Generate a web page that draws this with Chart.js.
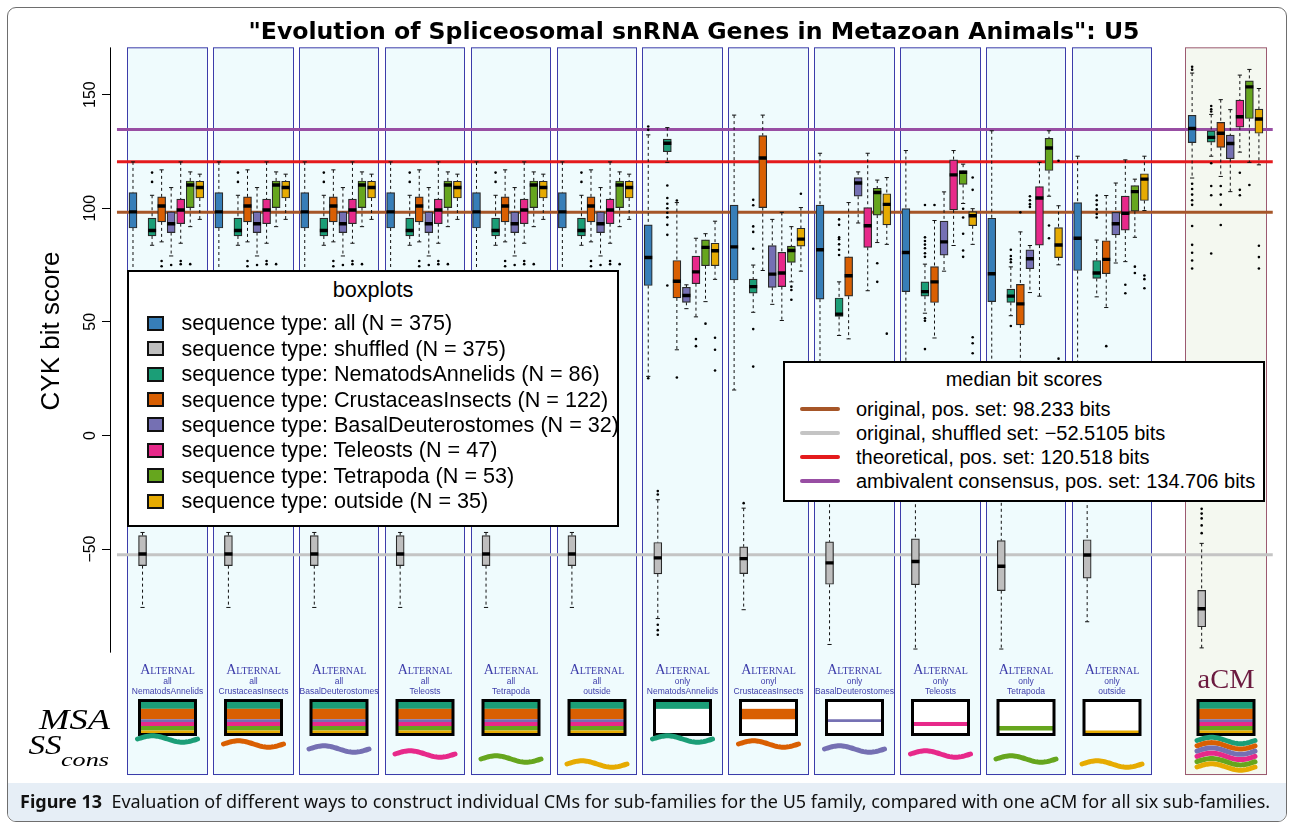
<!DOCTYPE html>
<html>
<head>
<meta charset="utf-8">
<title>U5 CYK bit scores</title>
<script src="https://cdn.jsdelivr.net/npm/chart.js@4.4.0/dist/chart.umd.min.js"></script>
<style>
  body { margin: 0; background: #fff; }
  #wrap { position: relative; width: 1294px; height: 828px; overflow: hidden; font-family: 'Liberation Sans', Arial, sans-serif; }
  #frame { position: absolute; left: 7px; top: 7px; width: 1280px; height: 815px; border: 1px solid #6e6e6e; border-radius: 9px; box-sizing: border-box; overflow: hidden; }
  #capbg { position: absolute; left: 0; right: 0; bottom: 0; height: 38px; background: #e6eef6; }
  #chart { position: absolute; left: 0; top: 0; }
  .legend { position: absolute; background: #fff; border: 2px solid #000; box-sizing: border-box; color: #000; }
  .legend .ttl, .legend .row { position: absolute; height: 24px; line-height: 24px; white-space: nowrap; }
  .legend .sw { position: absolute; box-sizing: border-box; border: 2px solid #111; }
  .legend .ln { position: absolute; height: 4px; border-radius: 2px; }
  #leg1 { left: 127px; top: 270px; width: 492px; height: 257px; font-size: 21.6px; }
  #leg2 { left: 783px; top: 361px; width: 482px; height: 141px; font-size: 20px; }
  #caption { position: absolute; left: 20px; top: 790px; height: 22px; line-height: 22px; font-family: 'Noto Sans', sans-serif; font-size: 18px; white-space: nowrap; color: #111; }
</style>
</head>
<body>
<div id="wrap">
  <div id="frame"><div id="capbg"></div></div>
  <canvas id="chart" width="1294" height="828"></canvas>
  <div id="leg1" class="legend"></div>
  <div id="leg2" class="legend"></div>
  <div id="caption"><b>Figure 13</b>&nbsp; Evaluation of different ways to construct individual CMs for sub-families for the U5 family, compared with one aCM for all six sub-families.</div>
</div>
<script>
// sequence types (one boxplot per type in every panel)
const groupNames = ['all', 'shuffled', 'NematodsAnnelids', 'CrustaceasInsects', 'BasalDeuterostomes', 'Teleosts', 'Tetrapoda', 'outside'];
const groupN = [375, 375, 86, 122, 32, 47, 53, 35];
const groupColors = ['#377eb8', '#bebebe', '#1b9e77', '#d95f02', '#7570b3', '#e7298a', '#66a61e', '#e6ab02'];

// panels: 6 "all" alternals, 6 "only" alternals, then the aCM
const panelModes = ['all', 'all', 'all', 'all', 'all', 'all', 'only', 'onyl', 'only', 'only', 'only', 'only', 'aCM'];
const panelSubs = ['NematodsAnnelids', 'CrustaceasInsects', 'BasalDeuterostomes', 'Teleosts', 'Tetrapoda', 'outside',
                   'NematodsAnnelids', 'CrustaceasInsects', 'BasalDeuterostomes', 'Teleosts', 'Tetrapoda', 'outside', ''];

// box stats per panel: [lower whisker, q1, median, q3, upper whisker]
const allStats = [
  [63, 91.3, 98.4, 106.9, 120.4], [63, 91.3, 98.4, 106.9, 120.4], [63, 91.3, 98.4, 106.9, 120.4],
  [63, 91.3, 98.4, 106.9, 120.4], [63, 91.3, 98.4, 106.9, 120.4], [63, 91.3, 98.4, 106.9, 120.4],
  [26.0, 66.0, 78.3, 92.7, 132.3], [20.0, 68.4, 83.0, 101.4, 141.0], [18.0, 60.0, 81.7, 101.4, 124.2],
  [15.0, 63.3, 80.5, 99.8, 125.4], [16.0, 58.9, 71.2, 95.6, 134.1], [14.0, 72.6, 86.8, 102.5, 122.9],
  [113.3, 128.9, 135.1, 140.9, 159.5]
];
const shufStats = [
  [-75.7, -57.3, -52.2, -44.1, -42.7], [-75.7, -57.3, -52.2, -44.1, -42.7], [-75.7, -57.3, -52.2, -44.1, -42.7],
  [-75.7, -57.3, -52.2, -44.1, -42.7], [-75.7, -57.3, -52.2, -44.1, -42.7], [-75.7, -57.3, -52.2, -44.1, -42.7],
  [-80.6, -60.9, -53.9, -47.1, -28.3], [-76.7, -60.8, -54.2, -49.0, -32.0], [-92.0, -65.5, -56.1, -46.8, -25.0],
  [-94.0, -65.7, -55.5, -45.5, -25.0], [-94.0, -68.3, -57.6, -46.3, -27.0], [-82.0, -62.8, -52.6, -45.9, -28.0],
  [-93.5, -84.2, -76.3, -68.2, -47.5]
];
const nemStats = [
  [83.7, 87.8, 90.2, 95.7, 105.7], [83.7, 87.8, 90.2, 95.7, 105.7], [83.7, 87.8, 90.2, 95.7, 105.7],
  [83.7, 87.8, 90.2, 95.7, 105.7], [83.7, 87.8, 90.2, 95.7, 105.7], [83.7, 87.8, 90.2, 95.7, 105.7],
  [120.2, 124.9, 128.6, 130.4, 135.5], [54.2, 62.6, 65.5, 68.8, 75.0], [44.0, 52.4, 53.4, 60.5, 67.6],
  [53.8, 61.3, 63.3, 67.6, 75.4], [52.7, 58.6, 61.3, 64.4, 74.2], [61.0, 69.1, 71.5, 77.0, 86.0],
  [122.9, 129.1, 131.2, 134.1, 141.3]
];
const cruStats = [
  [85.2, 94.0, 101.0, 105.0, 116.9], [85.2, 94.0, 101.0, 105.0, 116.9], [85.2, 94.0, 101.0, 105.0, 116.9],
  [85.2, 94.0, 101.0, 105.0, 116.9], [85.2, 94.0, 101.0, 105.0, 116.9], [85.2, 94.0, 101.0, 105.0, 116.9],
  [37.7, 60.5, 67.9, 77.0, 102.5], [72.6, 100.3, 122.1, 132.0, 141.0], [42.5, 61.3, 70.3, 78.6, 102.5],
  [42.9, 58.5, 67.6, 74.3, 94.6], [28.0, 48.7, 57.9, 66.5, 89.6], [56.3, 71.2, 77.5, 85.7, 105.6],
  [114.0, 126.8, 133.0, 137.8, 147.8]
];
const basStats = [
  [79.0, 89.3, 93.2, 98.4, 109.1], [79.0, 89.3, 93.2, 98.4, 109.1], [79.0, 89.3, 93.2, 98.4, 109.1],
  [79.0, 89.3, 93.2, 98.4, 109.1], [79.0, 89.3, 93.2, 98.4, 109.1], [79.0, 89.3, 93.2, 98.4, 109.1],
  [55.8, 58.6, 61.6, 65.2, 66.3], [57.7, 65.2, 71.0, 83.6, 95.1], [93.5, 105.3, 111.1, 113.5, 116.0],
  [72.3, 79.4, 85.2, 94.3, 107.2], [62.9, 73.4, 77.8, 81.7, 83.6], [75.9, 88.3, 93.2, 98.2, 111.1],
  [107.3, 121.8, 128.5, 132.2, 143.4]
];
const telStats = [
  [84.6, 93.2, 99.2, 104.0, 120.4], [84.6, 93.2, 99.2, 104.0, 120.4], [84.6, 93.2, 99.2, 104.0, 120.4],
  [84.6, 93.2, 99.2, 104.0, 120.4], [84.6, 93.2, 99.2, 104.0, 120.4], [84.6, 93.2, 99.2, 104.0, 120.4],
  [52.2, 66.8, 72.0, 78.9, 86.8], [50.6, 65.5, 71.5, 80.6, 98.2], [63.7, 82.8, 92.3, 100.3, 124.2],
  [83.6, 99.3, 114.7, 121.3, 125.4], [61.3, 83.8, 104.5, 109.5, 120.2], [76.5, 90.4, 97.8, 105.3, 121.3],
  [124.7, 135.7, 140.3, 147.6, 158.6]
];
const tetStats = [
  [91.9, 100.3, 110.2, 112.0, 116.0], [91.9, 100.3, 110.2, 112.0, 116.0], [91.9, 100.3, 110.2, 112.0, 116.0],
  [91.9, 100.3, 110.2, 112.0, 116.0], [91.9, 100.3, 110.2, 112.0, 116.0], [91.9, 100.3, 110.2, 112.0, 116.0],
  [58.9, 74.7, 82.8, 86.1, 88.8], [67.6, 76.2, 81.4, 83.3, 91.9], [84.9, 97.0, 106.9, 108.8, 112.4],
  [102.1, 110.5, 115.8, 116.6, 119.4], [105.3, 116.6, 126.5, 130.8, 134.1], [87.2, 98.7, 107.3, 110.0, 112.8],
  [120.2, 139.5, 153.4, 156.1, 161.1]
];
const outStats = [
  [95.1, 104.5, 109.1, 111.9, 115.0], [95.1, 104.5, 109.1, 111.9, 115.0], [95.1, 104.5, 109.1, 111.9, 115.0],
  [95.1, 104.5, 109.1, 111.9, 115.0], [95.1, 104.5, 109.1, 111.9, 115.0], [95.1, 104.5, 109.1, 111.9, 115.0],
  [68.7, 74.7, 81.3, 84.6, 94.3], [72.3, 83.3, 86.4, 91.2, 100.3], [84.1, 92.7, 101.7, 106.4, 113.5],
  [84.1, 92.3, 96.7, 98.5, 99.8], [75.1, 78.3, 83.8, 91.5, 101.1], [99.0, 103.4, 112.8, 115.2, 122.9],
  [119.1, 133.0, 139.3, 143.6, 152.7]
];

// outliers per panel
const allOutliers = [[], [], [], [], [], [], [134.5, 136, 25.2], [], [], [], [], [],
  [161, 162.3, 110.8, 108.5, 106, 103.5, 101.5, 92.2, 83.9, 80.4, 77, 73.5]];
const shufOutliers = [[], [], [], [], [], [], [-24.5, -26, -83.3, -85.7, -87.7], [-29.8], [], [], [], [],
  [-32.3, -34.4, -36.5, -39.6, -43]];
const nemOutliers = [[111.6, 115.7], [111.6, 115.7], [111.6, 115.7], [111.6, 115.7], [111.6, 115.7], [111.6, 115.7],
  [110, 104.5, 102, 100, 98, 96, 92.7, 88.3, 66], [103.7, 101.3, 92, 89.6, 82.2, 46.8, 30.3],
  [95.1, 92.7, 87.2, 86.4, 84.1, 81.7, 79.4], [101.4, 87.2, 85.6, 84, 82.4, 80.2, 78.6, 51.6, 50.5, 38],
  [81.7, 79, 77.5, 76.2, 48.2], [105.6, 103.5, 101.5, 99.5, 97.5, 95.9], [145, 143.6, 142.6, 119.8, 109.8, 105.7, 80.1]];
const cruOutliers = [[76.8, 74.5], [76.8, 74.5], [76.8, 74.5], [76.8, 74.5], [76.8, 74.5], [76.8, 74.5],
  [103.4, 25.5], [], [], [101.4], [98.2], [39.3], [109.8, 106, 101.5, 92.6]];
const basOutliers = [[75], [75], [75], [75], [75], [75], [], [], [], [], [105.3, 103.5, 101.8, 100.6], [], []];
const telOutliers = [[76.8, 75.4], [76.8, 75.4], [76.8, 75.4], [76.8, 75.4], [76.8, 75.4], [76.8, 75.4],
  [42.4, 39.3], [], [], [], [], [66.3, 62.6], [115.6, 108.1, 105.7]];
const tetOutliers = [[75.4], [75.4], [75.4], [75.4], [75.4], [75.4], [49.2], [65.5, 64, 59.7], [75.8, 67.6],
  [99.8, 95.9, 88.8, 81.4, 78.6], [92.4, 86.8], [74.3, 71.5], [110.2]];
const outOutliers = [[], [], [], [], [], [], [43, 37.7, 28.6], [106.4], [44.8], [113.5, 108.1, 43.2, 40.6, 36.2],
  [120.9, 33.8], [70.4, 68.8, 64.8], [83.5, 78.5, 73.5]];

// median bit score reference lines
const refValues = [98.233, -52.5105, 120.518, 134.706];
const refLabels = ['original, pos. set: 98.233 bits', 'original, shuffled set: \u221252.5105 bits',
                   'theoretical, pos. set: 120.518 bits', 'ambivalent consensus, pos. set: 134.706 bits'];
const refColors = ['#a65628', '#c4c4c4', '#e41a1c', '#984ea3'];

const yTicks = [150, 100, 50, 0, -50];
const yTickLabels = ['150', '100', '50', '0', '\u221250'];

const statsByGroup = [allStats, shufStats, nemStats, cruStats, basStats, telStats, tetStats, outStats];
const outliersByGroup = [allOutliers, shufOutliers, nemOutliers, cruOutliers, basOutliers, telOutliers, tetOutliers, outOutliers];

// x position of the first box of panel k (9 slots per panel, wider gap before aCM)
const panelStart = (k) => k < 12 ? 1 + 9 * k : 112;

const datasets = [];

refValues.forEach((v, i) => {
  datasets.push({
    type: 'line', data: [{ x: -0.68, y: v }, { x: 120.45, y: v }],
    borderColor: refColors[i], borderWidth: 3, pointRadius: 0, order: 50
  });
});

const whiskerPts = [];
const capPts = [];
statsByGroup.forEach((stats, g) => {
  stats.forEach(([lo, q1, med, q3, hi], k) => {
    const x = panelStart(k) + g;
    whiskerPts.push({ x, y: hi }, { x, y: q3 }, { x, y: null }, { x, y: q1 }, { x, y: lo }, { x, y: null });
    capPts.push({ x: x - 0.22, y: hi }, { x: x + 0.22, y: hi }, { x, y: null },
                { x: x - 0.22, y: lo }, { x: x + 0.22, y: lo }, { x, y: null });
  });
});
datasets.push({ type: 'line', data: whiskerPts, borderColor: '#111', borderWidth: 1, borderDash: [3, 3],
  pointRadius: 0, spanGaps: false, order: 40 });
datasets.push({ type: 'line', data: capPts, borderColor: '#111', borderWidth: 1,
  pointRadius: 0, spanGaps: false, order: 40 });

statsByGroup.forEach((stats, g) => {
  datasets.push({
    type: 'bar', label: groupNames[g],
    data: stats.map((s, k) => ({ x: panelStart(k) + g, y: [s[1], s[3]] })),
    backgroundColor: groupColors[g], borderColor: '#2a2a2a', borderWidth: 1.2, borderSkipped: false,
    barThickness: 8, grouped: false, order: 30
  });
});

const medianPts = [];
const outlierPts = [];
statsByGroup.forEach((stats, g) => {
  stats.forEach((s, k) => medianPts.push({ x: panelStart(k) + g, y: s[2] }));
  outliersByGroup[g].forEach((list, k) => list.forEach(v => outlierPts.push({ x: panelStart(k) + g, y: v })));
});
datasets.push({ type: 'scatter', data: medianPts, pointStyle: 'line', pointRadius: 4,
  pointBorderWidth: 3.4, pointBorderColor: '#000', order: 20 });
datasets.push({ type: 'scatter', data: outlierPts, pointStyle: 'circle', pointRadius: 1.3,
  pointBackgroundColor: '#000', pointBorderWidth: 0, order: 10 });

function panelEdges(x, k) {
  const s = panelStart(k);
  const l = x.getPixelForValue(s - (k < 12 ? 0.61 : 0.74));
  const r = x.getPixelForValue(s + (k < 12 ? 7.72 : 7.75));
  return [Math.round(l) + 0.5, Math.round(r) + 0.5];
}

function drawWave(ctx, x0, x1, yc, color) {
  ctx.beginPath();
  for (let i = 0; i <= 40; i++) {
    const t = i / 40;
    const px = x0 + (x1 - x0) * t;
    const py = yc - 3.2 * Math.sin(2 * Math.PI * t);
    if (i === 0) ctx.moveTo(px, py); else ctx.lineTo(px, py);
  }
  ctx.strokeStyle = color;
  ctx.lineWidth = 5;
  ctx.lineCap = 'round';
  ctx.stroke();
}

function fitText(ctx, text, cx, baseline, width) {
  const w = ctx.measureText(text).width;
  ctx.save();
  ctx.translate(cx, baseline);
  ctx.scale(width / w, 1);
  ctx.textAlign = 'center';
  ctx.fillText(text, 0, 0);
  ctx.restore();
}

const panelsPlugin = {
  id: 'panels',
  beforeDatasetsDraw(chart) {
    const { ctx, chartArea, scales: { x } } = chart;
    ctx.save();
    ctx.lineWidth = 1;
    for (let k = 0; k < 13; k++) {
      const [l, r] = panelEdges(x, k);
      ctx.fillStyle = k < 12 ? '#effbfd' : '#f4f8f0';
      ctx.strokeStyle = k < 12 ? '#3c3caa' : '#9c5a70';
      ctx.fillRect(l, chartArea.top + 0.5, r - l, chartArea.bottom - chartArea.top);
      ctx.strokeRect(l, chartArea.top + 0.5, r - l, chartArea.bottom - chartArea.top - 1);
    }
    ctx.restore();
  },
  afterDatasetsDraw(chart) {
    const { ctx, scales: { x } } = chart;
    const subN = groupN.slice(2);
    const subTotal = subN.reduce((a, b) => a + b, 0);
    ctx.save();
    for (let k = 0; k < 13; k++) {
      const [l, r] = panelEdges(x, k);
      const cx = (l + r) / 2;
      const sub = k % 6;
      if (k < 12) {
        ctx.fillStyle = '#3c3caa';
        ctx.textAlign = 'center';
        ctx.font = "small-caps 14px 'Liberation Serif', serif";
        ctx.fillText('Alternal', cx, 673.5);
        ctx.font = "8.5px 'Liberation Sans', sans-serif";
        ctx.fillText(panelModes[k], cx, 684);
        ctx.fillText(panelSubs[k], cx, 693.5);
      } else {
        ctx.fillStyle = '#6b1a3f';
        ctx.font = "27px 'Liberation Serif', serif";
        fitText(ctx, 'aCM', cx, 688, 57);
      }
      // MSA glyph
      const bx0 = cx - 28, bx1 = cx + 28, by0 = 701.5, by1 = 733.5;
      ctx.fillStyle = '#fff';
      ctx.fillRect(bx0, by0, bx1 - bx0, by1 - by0);
      let yy = by0;
      subN.forEach((n, g) => {
        const h = n / subTotal * (by1 - by0);
        if (k < 6 || k === 12 || g === sub) {
          ctx.fillStyle = groupColors[g + 2];
          ctx.fillRect(bx0, yy, bx1 - bx0, h);
        }
        yy += h;
      });
      ctx.strokeStyle = '#000';
      ctx.lineWidth = 3;
      ctx.strokeRect(bx0, by0 - 1, bx1 - bx0, by1 - by0 + 2);
      // SS_cons glyph
      if (k < 12) {
        drawWave(ctx, cx - 30, cx + 30, 739 + sub * 5, groupColors[sub + 2]);
      } else {
        for (let g = 0; g < 6; g++) drawWave(ctx, cx - 29, cx + 29, 740.5 + g * 5.3, groupColors[g + 2]);
      }
    }
    ctx.restore();
  },
  afterDraw(chart) {
    const { ctx, scales: { y } } = chart;
    ctx.save();
    // y axis line (spans the boxplot range only)
    ctx.strokeStyle = '#000';
    ctx.lineWidth = 1;
    ctx.beginPath();
    ctx.moveTo(y.right + 0.5, y.getPixelForValue(170.8));
    ctx.lineTo(y.right + 0.5, y.getPixelForValue(-95.6));
    ctx.stroke();
    // tick labels, parallel to axis
    ctx.fillStyle = '#000';
    ctx.font = "16px 'Liberation Sans', Arial, sans-serif";
    ctx.textAlign = 'center';
    ctx.textBaseline = 'middle';
    yTicks.forEach((v, i) => {
      ctx.save();
      ctx.translate(91, y.getPixelForValue(v));
      ctx.rotate(-Math.PI / 2);
      ctx.fillText(yTickLabels[i], 0, 0);
      ctx.restore();
    });
    // axis title
    ctx.save();
    ctx.font = "26px 'Liberation Sans', Arial, sans-serif";
    ctx.translate(52, 331);
    ctx.rotate(-Math.PI / 2);
    ctx.fillText('CYK bit score', 0, 0);
    ctx.restore();
    // row labels for the glyphs
    ctx.textBaseline = 'alphabetic';
    ctx.font = "italic 29px 'Liberation Serif', serif";
    fitText(ctx, 'MSA', 74.5, 729, 71);
    ctx.font = "italic 27px 'Liberation Serif', serif";
    fitText(ctx, 'SS', 45, 754, 33);
    ctx.font = "italic 19px 'Liberation Serif', serif";
    fitText(ctx, 'cons', 85, 766, 48);
    ctx.restore();
  }
};

new Chart(document.getElementById('chart'), {
  type: 'bar',
  data: { datasets },
  options: {
    responsive: false,
    animation: false,
    events: [],
    devicePixelRatio: 1,
    layout: { padding: { left: 0, right: 16, top: 0, bottom: 53 } },
    plugins: {
      legend: { display: false },
      tooltip: { enabled: false },
      title: {
        display: true, fullSize: false,
        text: '"Evolution of Spliceosomal snRNA Genes in Metazoan Animals": U5',
        color: '#000', font: { family: "'DejaVu Sans', sans-serif", size: 23.6, weight: 'bold' },
        padding: { top: 19, bottom: 0 }
      }
    },
    scales: {
      x: { type: 'linear', min: -1.41, max: 121.0, offset: false, display: false },
      y: {
        type: 'linear', min: -149.45, max: 170.83,
        afterBuildTicks: (s) => { s.ticks = yTicks.map(v => ({ value: v })); },
        afterFit: (s) => { s.width = 110; },
        grid: { display: true, drawOnChartArea: false, drawTicks: true, tickLength: 8, color: '#000', lineWidth: 1 },
        border: { display: false },
        ticks: { display: false }
      }
    }
  },
  plugins: [panelsPlugin]
});

// legends
const leg1 = document.getElementById('leg1');
leg1.innerHTML = '<div class="ttl" style="left:0;right:0;text-align:center;top:6px">boxplots</div>';
groupNames.forEach((name, i) => {
  const cy = 323.3 + i * 25.4 - 270 - 2;
  leg1.innerHTML += `<div class="sw" style="left:18px;top:${cy - 7.5}px;width:17px;height:15px;background:${groupColors[i]}"></div>` +
    `<div class="row" style="left:52.5px;top:${cy - 12}px">sequence type: ${name} (N = ${groupN[i]})</div>`;
});
const leg2 = document.getElementById('leg2');
leg2.innerHTML = '<div class="ttl" style="left:0;right:0;text-align:center;top:4px">median bit scores</div>';
refLabels.forEach((label, i) => {
  const cy = 409.3 + i * 23.9 - 361 - 2;
  leg2.innerHTML += `<div class="ln" style="left:15px;top:${cy - 2}px;width:40px;background:${refColors[i]}"></div>` +
    `<div class="row" style="left:71px;top:${cy - 12}px">${label}</div>`;
});
</script>
</body>
</html>
